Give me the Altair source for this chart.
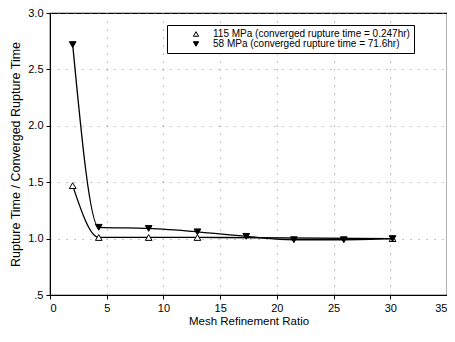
import altair as alt
import pandas as pd

series_115 = "115 MPa (converged rupture time = 0.247hr)"
series_58 = "58 MPa (converged rupture time = 71.6hr)"

x_115 = [2.0, 4.3, 8.7, 13.0, 30.2]
y_115 = [1.47, 1.01, 1.01, 1.01, 1.0]

x_58 = [2.0, 4.3, 8.7, 13.0, 17.3, 21.5, 25.9, 30.2]
y_58 = [2.72, 1.10, 1.09, 1.06, 1.02, 0.99, 0.99, 1.0]

x_ticks = [0, 5, 10, 15, 20, 25, 30, 35]
y_ticks = [0.5, 1.0, 1.5, 2.0, 2.5, 3.0]

df = pd.concat([
    pd.DataFrame({"x": x_115, "y": y_115, "series": series_115}),
    pd.DataFrame({"x": x_58, "y": y_58, "series": series_58}),
])

font = "Liberation Sans"
order = [series_115, series_58]

x_enc = alt.X("x:Q", scale=alt.Scale(domain=[0, 35], nice=False),
              axis=alt.Axis(values=x_ticks, title="Mesh Refinement Ratio", format="d",
                            titleFontSize=11.5, titlePadding=2))
y_enc = alt.Y("y:Q", scale=alt.Scale(domain=[0.5, 3.0], nice=False),
              axis=alt.Axis(values=y_ticks, title="Rupture Time / Converged Rupture Time",
                            titleFontSize=12.5, titlePadding=5,
                            labelExpr="datum.value == 0.5 ? '.5' : format(datum.value, '.1f')"))

legend = alt.Legend(title=None, orient="none", legendX=117, legendY=12,
                    strokeColor="black", padding=4, labelFont=font,
                    labelFontSize=10, symbolSize=28, rowPadding=0, labelLimit=0,
                    symbolOffset=20, labelOffset=12, clipHeight=10,
                    fillColor="white", symbolStrokeWidth=1)

lines = alt.Chart(df).mark_line(color="black", strokeWidth=1.3, interpolate="monotone").encode(
    x=x_enc, y=y_enc, detail="series:N"
)

points = alt.Chart(df).mark_point(filled=True, strokeWidth=1, size=45, opacity=1).encode(
    x=x_enc, y=y_enc,
    shape=alt.Shape("series:N", scale=alt.Scale(domain=order, range=["triangle-up", "triangle-down"]),
                    legend=legend),
    fill=alt.Fill("series:N", scale=alt.Scale(domain=order, range=["white", "black"]),
                  legend=legend),
    stroke=alt.Stroke("series:N", scale=alt.Scale(domain=order, range=["black", "black"]),
                      legend=legend),
)

chart = alt.layer(lines, points).properties(
    width=397, height=282,
    autosize=alt.AutoSizeParams(type="none"),
    padding={"left": 42, "top": 5, "right": 0, "bottom": 33},
).configure_view(
    stroke="black", strokeWidth=1.2
).configure_axis(
    labelFont=font, titleFont=font, labelFontSize=11,
    titleFontWeight="normal", labelColor="black", titleColor="black",
    domainColor="black", tickColor="black", tickSize=4, labelPadding=3,
    grid=True, gridColor="#888888", gridDash=[1, 7], gridWidth=1,
)

chart.save("out.html", embed_options={"renderer": "svg", "actions": False})
